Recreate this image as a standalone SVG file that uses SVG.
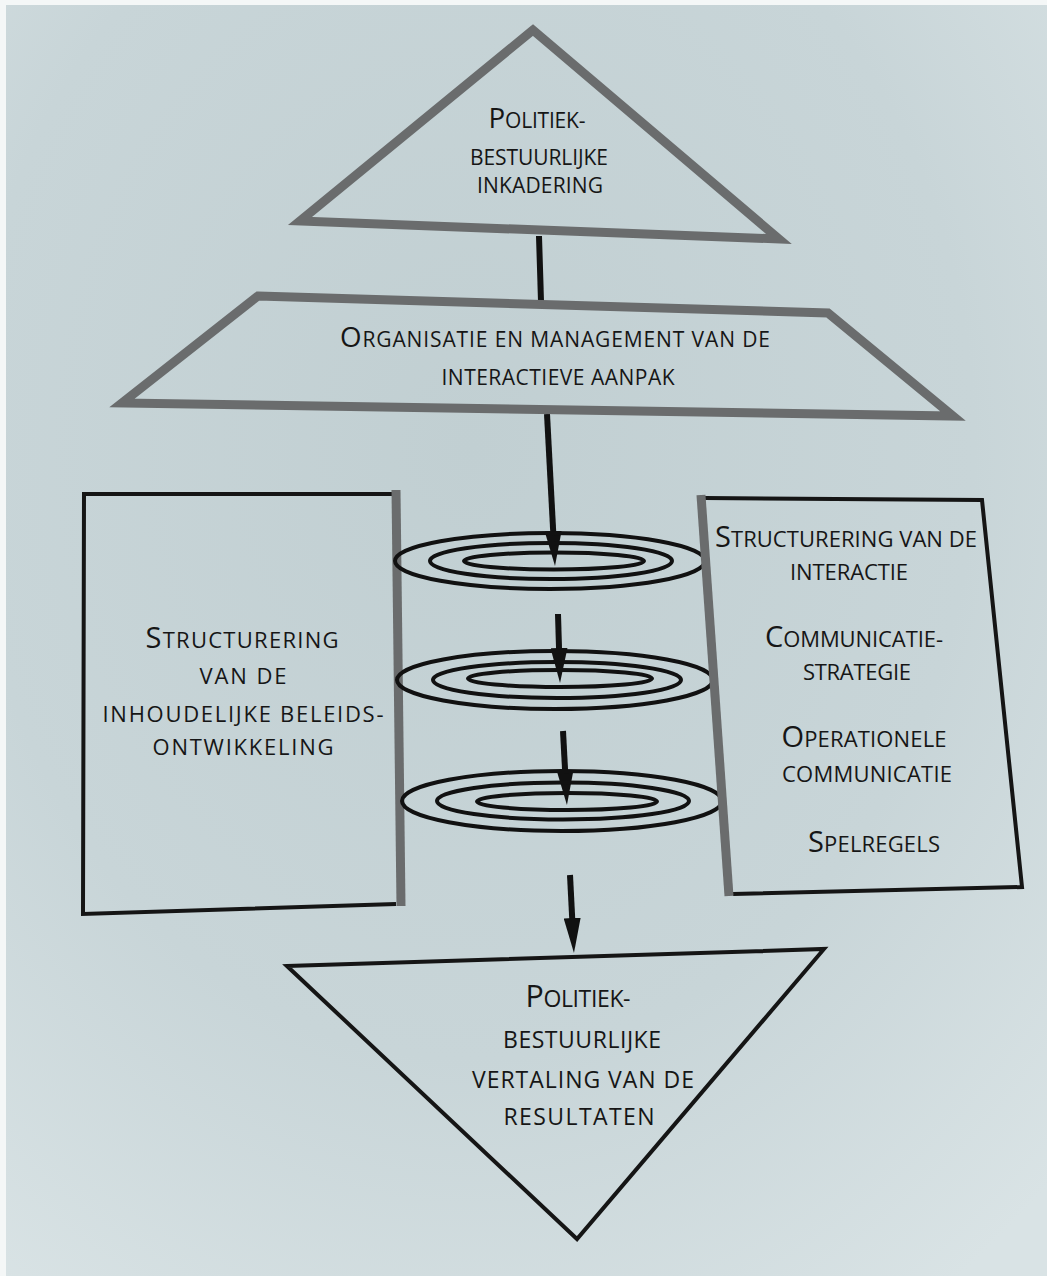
<svg xmlns="http://www.w3.org/2000/svg" width="1047" height="1276" viewBox="0 0 1047 1276">
  <defs>
    <radialGradient id="bg" cx="0.45" cy="0.35" r="0.8">
      <stop offset="0" stop-color="#c1cfd2"/>
      <stop offset="0.6" stop-color="#c8d5d8"/>
      <stop offset="1" stop-color="#d9e3e5"/>
    </radialGradient>
    <marker id="arrow" viewBox="0 0 35 17" markerWidth="35" markerHeight="17" refX="10" refY="8.5" orient="auto" markerUnits="userSpaceOnUse">
      <path d="M0,0 L35,8.5 L0,17 Z" fill="#111"/>
    </marker>
    <style>
      text { font-family: "Open Sans", "Liberation Sans", sans-serif; fill: #161616; text-anchor: middle; }
      .s17 { font-size: 21px; }
      .s18 { font-size: 22px; }
      .s19 { font-size: 23px; }
      .s20 { font-size: 22px; }
      .big { font-size: 1.32em; }
      .gray { fill: none; stroke: #6a6c6d; stroke-width: 9; stroke-linejoin: miter; stroke-miterlimit: 10; }
      .blk { fill: none; stroke: #151515; stroke-width: 4; stroke-linejoin: miter; }
      .ring { fill: none; stroke: #111; stroke-width: 4; }
      .conn { fill: none; stroke: #111; stroke-width: 6; }
    </style>
  </defs>

  <rect x="0" y="0" width="1047" height="1276" fill="url(#bg)"/>
  <rect x="0" y="0" width="1047" height="5" fill="#f4f7f7"/>
  <rect x="0" y="0" width="6" height="1276" fill="#f4f7f7"/>

  <g id="connectors">
    <line class="conn" x1="539" y1="236" x2="541" y2="301"/>
    <line class="conn" x1="547" y1="414" x2="553.7" y2="541" marker-end="url(#arrow)"/>
    <line class="conn" x1="558" y1="614" x2="559.3" y2="658" marker-end="url(#arrow)"/>
    <line class="conn" x1="563" y1="731" x2="565.6" y2="780" marker-end="url(#arrow)"/>
    <line class="conn" x1="570" y1="875" x2="572.7" y2="928" marker-end="url(#arrow)"/>
  </g>

  <g id="top-triangle">
    <polygon class="gray" points="533,30 300,221 779,239"/>
    <text class="s17" x="537" y="128" textLength="97" lengthAdjust="spacing"><tspan class="big">P</tspan>OLITIEK-</text>
    <text class="s17" x="539" y="165" textLength="138" lengthAdjust="spacing">BESTUURLIJKE</text>
    <text class="s17" x="540" y="193" textLength="126" lengthAdjust="spacing">INKADERING</text>
  </g>

  <g id="trapezoid">
    <polygon class="gray" points="258,296 828,313 953,416 122,403"/>
    <text class="s17" x="555" y="347" textLength="430" lengthAdjust="spacing"><tspan class="big">O</tspan>RGANISATIE EN MANAGEMENT VAN DE</text>
    <text class="s17" x="558" y="385" textLength="233" lengthAdjust="spacing">INTERACTIEVE AANPAK</text>
  </g>

  <g id="left-box">
    <polyline class="blk" points="392,494 84,494 83,914 396,904"/>
    <line class="gray" x1="396" y1="490" x2="401" y2="906" stroke-width="11"/>
    <text class="s20" x="242" y="648" textLength="193" lengthAdjust="spacing"><tspan class="big">S</tspan>TRUCTURERING</text>
    <text class="s20" x="243" y="684" textLength="87" lengthAdjust="spacing">VAN DE</text>
    <text class="s20" x="243" y="722" textLength="281" lengthAdjust="spacing">INHOUDELIJKE BELEIDS-</text>
    <text class="s20" x="243" y="755" textLength="181" lengthAdjust="spacing">ONTWIKKELING</text>
  </g>

  <g id="rings">
    <ellipse class="ring" cx="550" cy="561" rx="155" ry="28"/>
    <ellipse class="ring" cx="551" cy="561" rx="121" ry="18"/>
    <ellipse class="ring" cx="554" cy="561" rx="90" ry="8.5"/>
    <ellipse class="ring" cx="555" cy="680" rx="158" ry="29"/>
    <ellipse class="ring" cx="557" cy="680" rx="124" ry="18"/>
    <ellipse class="ring" cx="560" cy="678.5" rx="92" ry="8.5"/>
    <ellipse class="ring" cx="562" cy="801" rx="160" ry="30"/>
    <ellipse class="ring" cx="563" cy="801" rx="126" ry="18.5"/>
    <ellipse class="ring" cx="567" cy="801.5" rx="90" ry="8.5"/>
  </g>

  <g id="right-box">
    <polyline class="blk" points="705,498 982,500 1022,887 733,894"/>
    <line class="gray" x1="701" y1="495" x2="729" y2="896"/>
    <text class="s18" x="846" y="547" textLength="262" lengthAdjust="spacing"><tspan class="big">S</tspan>TRUCTURERING VAN DE</text>
    <text class="s18" x="849" y="580" textLength="118" lengthAdjust="spacing">INTERACTIE</text>
    <text class="s18" x="854" y="647" textLength="178" lengthAdjust="spacing"><tspan class="big">C</tspan>OMMUNICATIE-</text>
    <text class="s18" x="857" y="680" textLength="108" lengthAdjust="spacing">STRATEGIE</text>
    <text class="s18" x="864" y="747" textLength="165" lengthAdjust="spacing"><tspan class="big">O</tspan>PERATIONELE</text>
    <text class="s18" x="867" y="782" textLength="170" lengthAdjust="spacing">COMMUNICATIE</text>
    <text class="s18" x="874" y="852" textLength="132" lengthAdjust="spacing"><tspan class="big">S</tspan>PELREGELS</text>
  </g>

  <g id="bottom-triangle">
    <polygon class="blk" points="287,966 824,949 577,1239" stroke-width="4.5"/>
    <text class="s19" x="578" y="1007" textLength="105" lengthAdjust="spacing"><tspan class="big">P</tspan>OLITIEK-</text>
    <text class="s19" x="582" y="1048" textLength="158" lengthAdjust="spacing">BESTUURLIJKE</text>
    <text class="s19" x="583" y="1088" textLength="222" lengthAdjust="spacing">VERTALING VAN DE</text>
    <text class="s19" x="579" y="1125" textLength="151" lengthAdjust="spacing">RESULTATEN</text>
  </g>
</svg>
